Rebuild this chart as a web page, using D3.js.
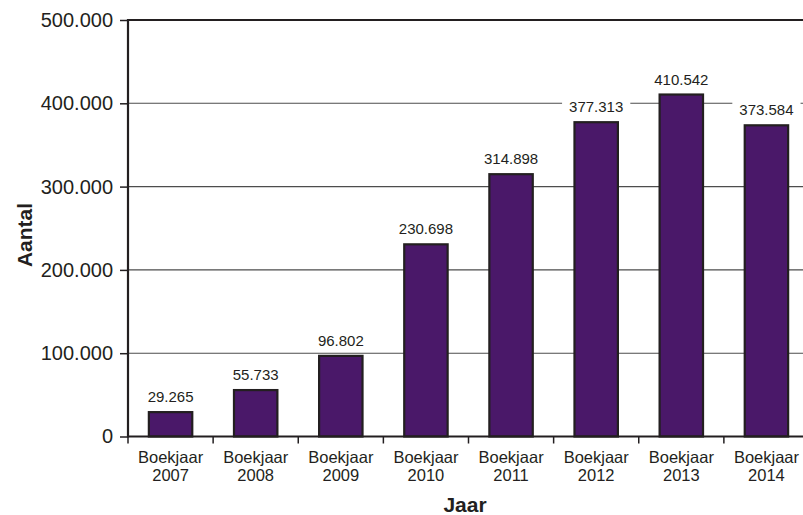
<!DOCTYPE html>
<html>
<head>
<meta charset="utf-8">
<script src="https://cdn.jsdelivr.net/npm/d3@7"></script>
<style>
  html, body { margin: 0; padding: 0; background: #fff; }
  svg { display: block; font-family: "Liberation Sans", Arial, sans-serif; }
</style>
</head>
<body>
<svg id="chart" width="803" height="515"></svg>
<script>
const categories = ["Boekjaar 2007", "Boekjaar 2008", "Boekjaar 2009", "Boekjaar 2010",
                    "Boekjaar 2011", "Boekjaar 2012", "Boekjaar 2013", "Boekjaar 2014"];
const values = [29265, 55733, 96802, 230698, 314898, 377313, 410542, 373584];
const yTicks = [0, 100000, 200000, 300000, 400000, 500000];
const yTitle = "Aantal";
const xTitle = "Jaar";

(function () {
const ink = "#231f20";
const barFill = "#4a1869";

const nl = d3.formatLocale({ decimal: ",", thousands: ".", grouping: [3], currency: ["€", ""] });
const fmt = nl.format(",");

const svg = d3.select("#chart");
const pLeft = 128, pRight = 809, pTop = 20, pBottom = 436.5;

const x = d3.scaleBand().domain(categories).range([pLeft, pRight])
  .paddingInner(0.49).paddingOuter(0.245);
const y = d3.scaleLinear().domain([0, 500000]).range([pBottom, pTop]);

// gridlines
svg.append("g").selectAll("line").data(yTicks.filter(d => d > 0 && d < 500000)).join("line")
  .attr("x1", pLeft).attr("x2", pRight)
  .attr("y1", d => y(d)).attr("y2", d => y(d))
  .attr("stroke", "#4d4d4d").attr("stroke-width", 1.1);

// bars
svg.append("g").selectAll("rect").data(values).join("rect")
  .attr("x", (d, i) => x(categories[i]))
  .attr("width", x.bandwidth())
  .attr("y", d => y(d))
  .attr("height", d => y(0) - y(d))
  .attr("fill", barFill)
  .attr("stroke", ink).attr("stroke-width", 2.2);

// value labels with white background
const lab = svg.append("g").selectAll("g").data(values).join("g")
  .attr("transform", (d, i) => `translate(${x(categories[i]) + x.bandwidth() / 2},${y(d) - 10})`);
lab.append("text")
  .attr("text-anchor", "middle")
  .attr("font-size", 15)
  .attr("fill", ink)
  .text(d => fmt(d));
lab.each(function () {
  const g = d3.select(this);
  const bb = g.select("text").node().getBBox();
  g.insert("rect", "text")
    .attr("x", bb.x - 7).attr("width", bb.width + 14)
    .attr("y", bb.y - 1).attr("height", bb.height + 1)
    .attr("fill", "#fff");
});

// y axis
const yAxis = d3.axisLeft(y).tickValues(yTicks).tickFormat(d => fmt(d)).tickSize(8).tickPadding(7);
const yg = svg.append("g").attr("transform", `translate(${pLeft},0)`).call(yAxis);
yg.select(".domain").remove();
yg.selectAll(".tick line").attr("stroke", ink).attr("stroke-width", 1.5);
yg.selectAll(".tick text").attr("font-size", 20).attr("fill", ink)
  .attr("font-family", "'Liberation Sans', Arial, sans-serif");

// x ticks at category boundaries
const bounds = categories.map(c => x(c) - x.step() * x.paddingInner() / 2);
svg.append("g").selectAll("line").data(bounds).join("line")
  .attr("x1", d => d).attr("x2", d => d)
  .attr("y1", pBottom).attr("y2", pBottom + 7)
  .attr("stroke", ink).attr("stroke-width", 1.5);

// x category labels
const xl = svg.append("g").selectAll("text").data(categories).join("text")
  .attr("text-anchor", "middle")
  .attr("font-size", 16.5)
  .attr("fill", ink);
xl.append("tspan").attr("x", d => x(d) + x.bandwidth() / 2).attr("y", 463).text(d => d.split(" ")[0]);
xl.append("tspan").attr("x", d => x(d) + x.bandwidth() / 2).attr("y", 481).text(d => d.split(" ")[1]);

// frame
svg.append("line").attr("x1", pLeft).attr("x2", pRight).attr("y1", pTop).attr("y2", pTop)
  .attr("stroke", ink).attr("stroke-width", 2.2);
svg.append("line").attr("x1", pLeft).attr("x2", pLeft).attr("y1", pTop - 1).attr("y2", pBottom + 1)
  .attr("stroke", ink).attr("stroke-width", 2.2);
svg.append("line").attr("x1", pLeft).attr("x2", pRight).attr("y1", pBottom).attr("y2", pBottom)
  .attr("stroke", ink).attr("stroke-width", 2.2);

// axis titles
svg.append("text").attr("transform", "translate(32,235) rotate(-90)")
  .attr("text-anchor", "middle").attr("font-size", 21).attr("font-weight", "bold")
  .attr("fill", ink).text(yTitle);
svg.append("text").attr("x", 465).attr("y", 512)
  .attr("text-anchor", "middle").attr("font-size", 21).attr("font-weight", "bold")
  .attr("fill", ink).text(xTitle);
})();
</script>
</body>
</html>
